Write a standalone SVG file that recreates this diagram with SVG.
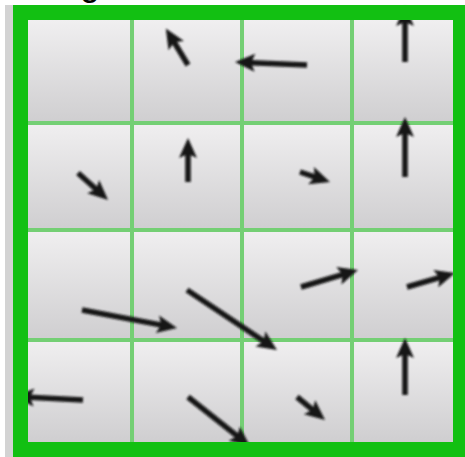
<svg xmlns="http://www.w3.org/2000/svg" width="465" height="457" viewBox="0 0 465 457">
<defs>
<linearGradient id="cellg" x1="0" y1="0" x2="0" y2="1">
<stop offset="0" stop-color="#f0eff0"/>
<stop offset="1" stop-color="#cfced0"/>
</linearGradient>
<filter id="soft" x="-10%" y="-10%" width="120%" height="120%"><feGaussianBlur stdDeviation="0.9"/></filter>
<marker id="ah" markerUnits="userSpaceOnUse" markerWidth="22" markerHeight="20" refX="10" refY="9" orient="auto" overflow="visible">
<path d="M0,0 L20,9 L0,18 L4,9 z" fill="#151515"/>
</marker>
<style>
.cell{fill:url(#cellg)}
.grid line{stroke:#74cf74;stroke-width:4}
.conn line{stroke:#151515;stroke-width:5.5;marker-end:url(#ah)}
</style>
</defs>
<rect x="0" y="0" width="465" height="457" fill="#ffffff"/>
<rect x="5" y="5" width="8" height="452" fill="#d3d3d3"/>
<g id="cells">
<rect class="cell" x="28" y="20" width="104" height="103"/>
<rect class="cell" x="132" y="20" width="110" height="103"/>
<rect class="cell" x="242" y="20" width="110" height="103"/>
<rect class="cell" x="352" y="20" width="103" height="103"/>
<rect class="cell" x="28" y="123" width="104" height="107"/>
<rect class="cell" x="132" y="123" width="110" height="107"/>
<rect class="cell" x="242" y="123" width="110" height="107"/>
<rect class="cell" x="352" y="123" width="103" height="107"/>
<rect class="cell" x="28" y="230" width="104" height="110"/>
<rect class="cell" x="132" y="230" width="110" height="110"/>
<rect class="cell" x="242" y="230" width="110" height="110"/>
<rect class="cell" x="352" y="230" width="103" height="110"/>
<rect class="cell" x="28" y="340" width="104" height="102"/>
<rect class="cell" x="132" y="340" width="110" height="102"/>
<rect class="cell" x="242" y="340" width="110" height="102"/>
<rect class="cell" x="352" y="340" width="103" height="102"/>
</g>
<g class="grid" id="grid">
<line x1="132" y1="20" x2="132" y2="442"/>
<line x1="242" y1="20" x2="242" y2="442"/>
<line x1="352" y1="20" x2="352" y2="442"/>
<line x1="28" y1="123" x2="455" y2="123"/>
<line x1="28" y1="230" x2="455" y2="230"/>
<line x1="28" y1="340" x2="455" y2="340"/>
</g>
<g class="conn" id="connectors" filter="url(#soft)">
<line x1="188" y1="65" x2="171" y2="37"/>
<line x1="307" y1="65" x2="245" y2="62.4"/>
<line x1="405" y1="62" x2="405" y2="16"/>
<line x1="78" y1="173" x2="100.6" y2="193.3"/>
<line x1="188" y1="182" x2="188" y2="148"/>
<line x1="300" y1="172" x2="320.5" y2="178.8"/>
<line x1="405" y1="177" x2="405" y2="127"/>
<line x1="82" y1="310" x2="167.2" y2="326.1"/>
<line x1="187" y1="290" x2="268.7" y2="344.5"/>
<line x1="301" y1="287" x2="348.4" y2="272.9"/>
<line x1="407" y1="287" x2="445.4" y2="275.8"/>
<line x1="83" y1="400" x2="24" y2="397"/>
<line x1="188" y1="397" x2="242.1" y2="439.8"/>
<line x1="297" y1="397" x2="317.3" y2="413.6"/>
<line x1="405" y1="395" x2="405" y2="348"/>
</g>
<path id="frame" fill="#12c012" fill-rule="evenodd" d="M13,5 H465 V457 H13 Z M28,20 V442 H453 V20 Z"/>
<text x="80" y="-5" font-family="Liberation Sans, sans-serif" font-size="36" fill="#000000">g</text>
</svg>
